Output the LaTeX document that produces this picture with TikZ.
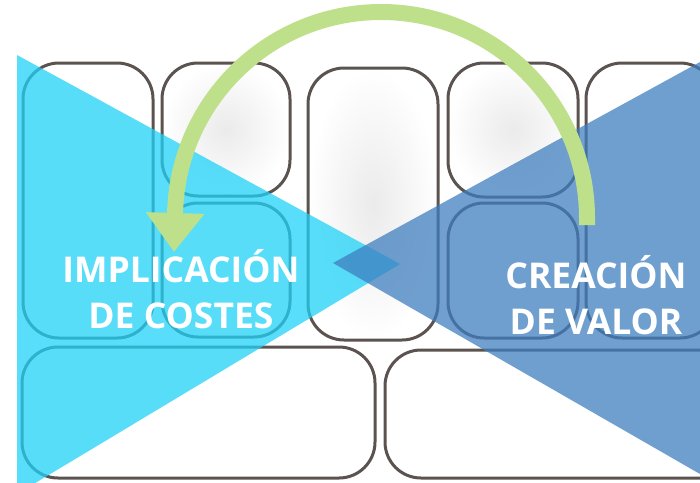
\documentclass[tikz,border=0pt]{standalone}
\usepackage{fontspec}
\newfontfamily\labelfont{Open Sans}
\usepackage{tikz}
\usetikzlibrary{arrows.meta,positioning,calc}

\definecolor{costcyan}{RGB}{30,210,248}
\definecolor{valueblue}{RGB}{62,126,191}
\definecolor{arrowgreen}{RGB}{191,224,138}
\definecolor{cellgray}{RGB}{91,83,80}

\begin{document}
\begin{tikzpicture}[
    x=1pt, y=-1pt,
    font=\labelfont\bfseries\fontsize{35.5}{46}\selectfont,
    cell/.style={rectangle, draw=cellgray, line width=3pt, rounded corners=36pt, fill=white},
    shadedcell/.style={cell, inner color=black!8, outer color=white},
    wedge/.style={fill opacity=0.74},
    label/.style={text=white, align=center, inner sep=0pt}
]
    \useasboundingbox (0,0) rectangle (700,482);

    % Canvas cells
    \node[cell, minimum width=130pt, minimum height=275pt] (partners) at (88,200.5) {};
    \node[shadedcell, minimum width=128pt, minimum height=133pt] (activities) at (226,129.5) {};
    \node[cell, minimum width=128pt, minimum height=134pt] (resources) at (226,270) {};
    \node[shadedcell, minimum width=130pt, minimum height=272pt] (proposition) at (373,204) {};
    \node[shadedcell, minimum width=130pt, minimum height=134pt] (relations) at (513,130) {};
    \node[cell, minimum width=130pt, minimum height=135pt] (channels) at (513,270.5) {};
    \node[cell, minimum width=130pt, minimum height=275pt] (segments) at (651,200.5) {};
    \node[cell, minimum width=353pt, minimum height=131pt] (costs) at (198.5,412.5) {};
    \node[cell, minimum width=353pt, minimum height=128pt] (revenue) at (561.5,414) {};

    % Wedges
    \fill[wedge, costcyan] (17,55) -- (400,264) -- (17,494) -- cycle;
    \fill[wedge, valueblue] (700,62) -- (333,263) -- (700,474) -- cycle;

    % Arrow
    \coordinate (from) at (587,225);
    \coordinate (to) at (174,252);
    \draw[arrowgreen, line width=16pt, -{Triangle[width=56pt, length=39pt]}]
        (from) -- ++(0,-7) arc[start angle=0, end angle=-180, radius=206] -- (to);

    % Labels
    \node[label] (cost) at (181,289) {IMPLICACIÓN\\DE COSTES};
    \node[label] (value) at (596,295) {CREACIÓN\\DE VALOR};
\end{tikzpicture}
\end{document}
